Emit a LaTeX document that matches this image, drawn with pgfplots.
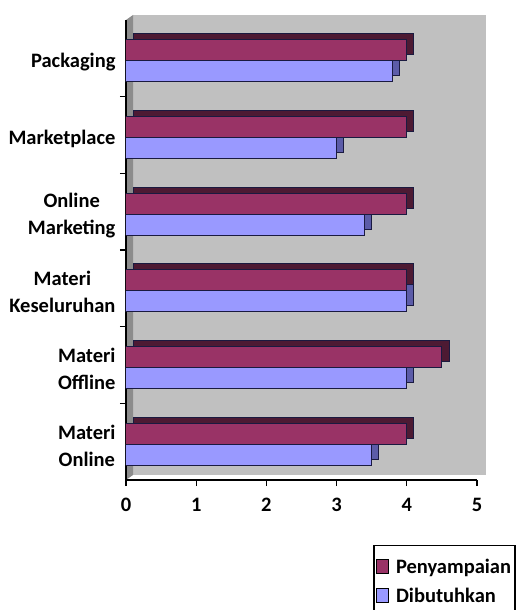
\documentclass[border=0pt]{standalone}
\usepackage{fontspec}
\setmainfont{Carlito}
\usepackage{pgfplots}
\pgfplotsset{compat=1.18}
\definecolor{wall}{HTML}{C0C0C0}
\definecolor{wallside}{HTML}{8C8C8C}
\definecolor{plum}{HTML}{993366}
\definecolor{plumdark}{HTML}{4D1A33}
\definecolor{peri}{HTML}{9999FF}
\definecolor{peridark}{HTML}{5C5CA8}
\definecolor{edge}{HTML}{1A1A40}
\begin{document}
\begin{tikzpicture}[x=1pt,y=1pt]
\useasboundingbox (0,0) rectangle (531,610);
\fill[wall] (133,135) rectangle (486,595);
\fill[wallside] (126,130) -- (133,135) -- (133,595) -- (126,590) -- cycle;
\begin{axis}[
  at={(126pt,130pt)}, anchor=south west, scale only axis,
  width=351pt, height=460pt,
  xmin=0, xmax=5, ymin=-0.5, ymax=5.5,
  axis lines*=left, axis line style={black, line width=1.2pt},
  tick align=outside, major tick length=6pt,
  xtick={0,...,5},
  xtick style={black, line width=1.2pt},
  xticklabel style={font=\fontsize{20.5}{24}\selectfont\bfseries, yshift=-9pt},
  /pgf/number format/assume math mode=true,
  ytick={0,...,5},
  yticklabels={{Materi\\Online},{Materi\\Offline},{Materi\\Keseluruhan},{Online\\Marketing},Marketplace,Packaging},
  ytick style={draw=none},
  yticklabel style={align=center, font=\fontsize{20.5}{27}\selectfont\bfseries, xshift=-1pt, yshift=-4pt},
  extra y ticks={0.5,1.5,2.5,3.5,4.5},
  extra y tick labels={},
  extra y tick style={ytick style={draw=black, line width=1.2pt}},
  legend style={at={(0.7037,-0.1413)}, anchor=north west, draw=black, line width=1.5pt,
    font=\fontsize{20.5}{24}\selectfont\bfseries, row sep=9pt, inner xsep=2pt, inner ysep=11pt,
    /tikz/every odd column/.append style={column sep=5pt}},
  legend cell align=left,
]
\addplot[xbar, bar width=21pt, bar shift=8pt, fill=plumdark, draw=edge, line width=0.8pt, xshift=7pt, yshift=6pt, forget plot]
  coordinates {(4,0) (4.5,1) (4,2) (4,3) (4,4) (4,5)};
\addplot[xbar, bar width=21pt, bar shift=-13pt, fill=peridark, draw=edge, line width=0.8pt, xshift=7pt, yshift=6pt, forget plot]
  coordinates {(3.5,0) (4,1) (4,2) (3.4,3) (3,4) (3.8,5)};
\addplot[xbar, bar width=21pt, bar shift=8pt, fill=plum, draw=edge, line width=1pt,
  legend image code/.code={\draw[fill=plum, draw=black, line width=1.3pt] (2pt,-7pt) rectangle (14pt,7pt);}]
  coordinates {(4,0) (4.5,1) (4,2) (4,3) (4,4) (4,5)};
\addlegendentry{Penyampaian}
\addplot[xbar, bar width=21pt, bar shift=-13pt, fill=peri, draw=edge, line width=1pt,
  legend image code/.code={\draw[fill=peri, draw=black, line width=1.3pt] (2pt,-7pt) rectangle (14pt,7pt);}]
  coordinates {(3.5,0) (4,1) (4,2) (3.4,3) (3,4) (3.8,5)};
\addlegendentry{Dibutuhkan}
\end{axis}
\end{tikzpicture}
\end{document}
